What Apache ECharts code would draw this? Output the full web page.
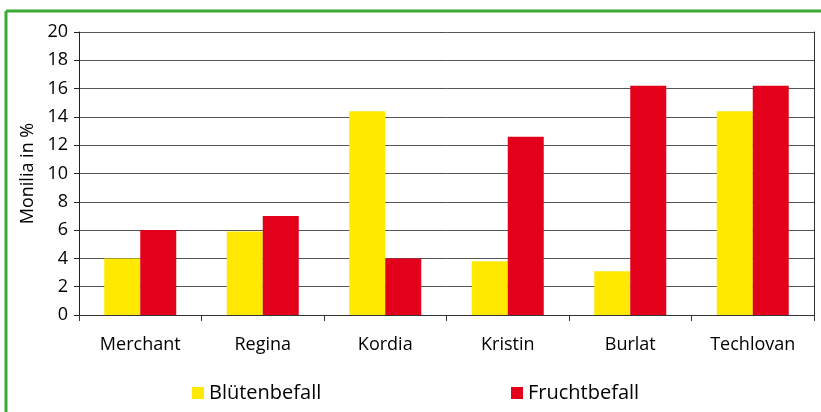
<!DOCTYPE html>
<html>
<head>
<meta charset="utf-8">
<script src="https://cdn.jsdelivr.net/npm/echarts@6/dist/echarts.min.js"></script>
<style>
  html, body { margin: 0; padding: 0; background: #fff; }
  #chart { width: 821px; height: 412px; }
</style>
</head>
<body>
<div id="chart"></div>
<script>
// Sorten und Befallswerte (Monilia in %)
const sorten = ['Merchant', 'Regina', 'Kordia', 'Kristin', 'Burlat', 'Techlovan']
const bluetenbefall = [4.0, 5.9, 14.4, 3.8, 3.1, 14.4]
const fruchtbefall = [6.0, 7.0, 4.0, 12.6, 16.2, 16.2]

const font = 'Open Sans'

const chart = echarts.init(document.getElementById('chart'))

chart.setOption({
  animation: false,
  textStyle: { fontFamily: font, color: '#000' },
  graphic: [
    // gruener Rahmen (nur oben und links sichtbar)
    { type: 'line', shape: { x1: 6, y1: 11, x2: 821, y2: 11 }, style: { stroke: '#3aaa35', lineWidth: 3 } },
    { type: 'line', shape: { x1: 6, y1: 11, x2: 6, y2: 412 }, style: { stroke: '#3aaa35', lineWidth: 3 } }
  ],
  grid: {
    left: 79,
    right: 7,
    top: 32,
    bottom: 97
  },
  legend: [
    {
      data: ['Blütenbefall'],
      left: 187,
      top: 378,
      itemWidth: 12,
      itemHeight: 12,
      icon: 'rect',
      textStyle: { fontFamily: font, fontSize: 20, fontWeight: 500, color: '#000' }
    },
    {
      data: ['Fruchtbefall'],
      left: 506,
      top: 378,
      itemWidth: 12,
      itemHeight: 12,
      icon: 'rect',
      textStyle: { fontFamily: font, fontSize: 20, fontWeight: 500, color: '#000' }
    }
  ],
  xAxis: {
    type: 'category',
    data: sorten,
    axisLine: { show: true, lineStyle: { color: '#333', width: 1 } },
    axisTick: { show: true, length: 6, inside: false, lineStyle: { color: '#333' } },
    axisLabel: { fontFamily: font, fontSize: 18, fontWeight: 500, color: '#000', margin: 21 }
  },
  yAxis: [
    {
      type: 'value',
      min: 0,
      max: 20,
      interval: 2,
      name: 'Monilia in %',
      nameLocation: 'middle',
      nameGap: 41,
      nameTextStyle: { fontFamily: font, fontSize: 18, fontWeight: 500, color: '#000' },
      axisLine: { show: true, lineStyle: { color: '#222', width: 1 } },
      axisTick: { show: true, length: 5, lineStyle: { color: '#222' } },
      axisLabel: { fontFamily: font, fontSize: 18, fontWeight: 500, color: '#000', margin: 11 },
      splitLine: { show: true, lineStyle: { color: '#555', width: 1 } }
    },
    {
      type: 'value',
      position: 'right',
      min: 0,
      max: 20,
      interval: 2,
      axisLine: { show: true, lineStyle: { color: '#333', width: 1 } },
      axisTick: { show: false },
      axisLabel: { show: false },
      splitLine: { show: false }
    }
  ],
  series: [
    {
      name: 'Blütenbefall',
      type: 'bar',
      data: bluetenbefall,
      barWidth: 36,
      barGap: '0%',
      itemStyle: { color: '#ffe900' }
    },
    {
      name: 'Fruchtbefall',
      type: 'bar',
      data: fruchtbefall,
      barWidth: 36,
      barGap: '0%',
      itemStyle: { color: '#e2001a' }
    }
  ]
})
</script>
</body>
</html>
